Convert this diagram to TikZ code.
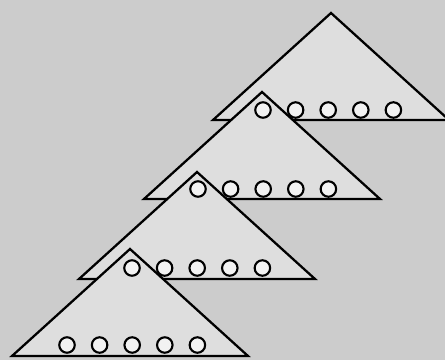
\documentclass[tikz,border=0pt]{standalone}
\usetikzlibrary{positioning}

\begin{document}
\begin{tikzpicture}[
  x=0.02cm, y=0.02cm,
  node distance=0.3cm,
  tri/.style={draw, line width=1.3pt, line join=miter, fill=black!13},
  hole/.style={circle, draw, line width=1.2pt, fill=black!5, minimum size=0.31cm, inner sep=0pt}
]
\useasboundingbox (0,0) rectangle (445,360);
\clip (0,0) rectangle (445,360);
\fill[black!20] (0,0) rectangle (445,360);

% Triangle 1 (back)
\coordinate (apex1) at (331,347);
\draw[tri] (apex1) -- ++(-118,-107) -- ++(236,0) -- cycle;

% Triangle 2
\coordinate (apex2) at (262,268);
\draw[tri] (apex2) -- ++(-118,-107) -- ++(236,0) -- cycle;

% Triangle 3
\coordinate (apex3) at (197,188);
\draw[tri] (apex3) -- ++(-118,-107) -- ++(236,0) -- cycle;

% Triangle 4 (front)
\coordinate (apex4) at (130,111);
\draw[tri] (apex4) -- ++(-118,-107) -- ++(236,0) -- cycle;

% Holes, row 1
\node[hole] (h11) at (263,250) {};
\node[hole, right=of h11] (h12) {};
\node[hole, right=of h12] (h13) {};
\node[hole, right=of h13] (h14) {};
\node[hole, right=of h14] (h15) {};

% Holes, row 2
\node[hole] (h21) at (198,171) {};
\node[hole, right=of h21] (h22) {};
\node[hole, right=of h22] (h23) {};
\node[hole, right=of h23] (h24) {};
\node[hole, right=of h24] (h25) {};

% Holes, row 3
\node[hole] (h31) at (132,92) {};
\node[hole, right=of h31] (h32) {};
\node[hole, right=of h32] (h33) {};
\node[hole, right=of h33] (h34) {};
\node[hole, right=of h34] (h35) {};

% Holes, row 4
\node[hole] (h41) at (67,15) {};
\node[hole, right=of h41] (h42) {};
\node[hole, right=of h42] (h43) {};
\node[hole, right=of h43] (h44) {};
\node[hole, right=of h44] (h45) {};

\end{tikzpicture}
\end{document}
